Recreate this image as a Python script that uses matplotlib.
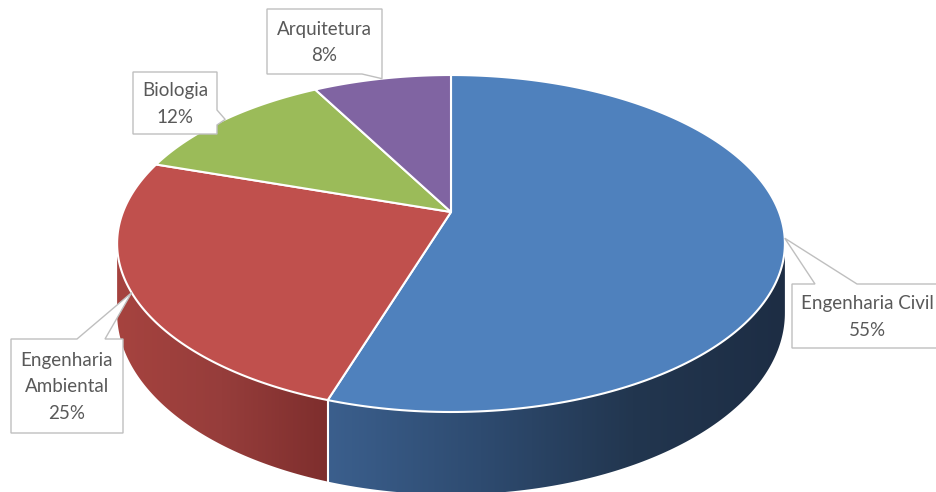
import matplotlib.pyplot as plt
import numpy as np
from matplotlib.patches import Polygon
from matplotlib.colors import LinearSegmentedColormap

# Distribuição por curso
categories = ['Engenharia Civil', 'Engenharia Ambiental', 'Biologia', 'Arquitetura']
label_text = ['Engenharia Civil', 'Engenharia\nAmbiental', 'Biologia', 'Arquitetura']
shares = [55, 25, 12, 8]

top_colors = ['#4F81BD', '#C0504D', '#9BBB59', '#8064A2']
side_colors = [['#3b5f8d', '#2e4b70', '#22364f', '#1d2d44'],
               ['#a6433f', '#963d3b', '#7e2e2d'],
               ['#7d9848', '#6a8238'],
               ['#65507f', '#55436c']]

# perspective "3D" pie geometry (pixel space)
CX, CY = 451, 212      # centre of the top face
W, K = 328, 162.6      # horizontal / vertical radius
E = 0.187              # perspective strength
H = 67                 # thickness of the pie


def proj(theta, r=1.0, z=0.0):
    t = np.radians(theta)
    u = r * np.sin(t)
    v = r * np.cos(t)
    den = 1 + E * v
    return CX + W * u / den, CY - K * v / den + H * z / den


fig = plt.figure(figsize=(9.36, 4.92), dpi=100)
ax = fig.add_axes([0, 0, 1, 1])
ax.set_xlim(0, 936)
ax.set_ylim(492, 0)
ax.axis('off')

bounds = np.concatenate([[0], np.cumsum(shares)]) / sum(shares) * 360
# silhouette of the side wall
vis_lo = np.degrees(np.arccos(-E))
vis_hi = 360 - vis_lo

# side walls
for i in range(len(shares)):
    a0, a1 = max(bounds[i], vis_lo), min(bounds[i + 1], vis_hi)
    if a1 <= a0:
        continue
    th = np.linspace(a0, a1, 120)
    xt, yt = proj(th)
    xb, yb = proj(th[::-1], z=1)
    pts = np.column_stack([np.concatenate([xt, xb]), np.concatenate([yt, yb])])
    poly = Polygon(pts, closed=True, facecolor='none', edgecolor='none')
    ax.add_patch(poly)
    cmap = LinearSegmentedColormap.from_list(f'side{i}', side_colors[i])
    grad = np.linspace(0, 1, 256).reshape(1, -1)
    im = ax.imshow(grad, cmap=cmap, aspect='auto', interpolation='bilinear',
                   extent=(pts[:, 0].min(), pts[:, 0].max(), pts[:, 1].max(), pts[:, 1].min()),
                   zorder=1)
    im.set_clip_path(poly)

# vertical seams between walls
for b in bounds[1:-1]:
    if vis_lo < b < vis_hi:
        x0, y0 = proj(b)
        x1, y1 = proj(b, z=1)
        ax.plot([x0, x1], [y0, y1], color='white', lw=1.5, zorder=2)

# top faces
for i in range(len(shares)):
    th = np.linspace(bounds[i], bounds[i + 1], 200)
    xs, ys = proj(th)
    pts = np.column_stack([np.concatenate([[CX], xs]), np.concatenate([[CY], ys])])
    ax.add_patch(Polygon(pts, closed=True, facecolor=top_colors[i],
                         edgecolor='white', lw=1.5, zorder=3, joinstyle='round'))

# callout boxes: (x0, y0, x1, y1), edge with pointer, pointer base positions
boxes = [(792, 284, 945, 348), (11, 339, 123, 433), (133, 72, 217, 134), (267, 9, 382, 74)]
pointer = [('top', 815, 857), ('top', 77, 105), ('right', 110, 125), ('bottom', 362, 382)]


def callout(box, side, b0, b1, tip):
    x0, y0, x1, y1 = box
    if side == 'top':
        pts = [(x0, y0), (b0, y0), tip, (b1, y0), (x1, y0), (x1, y1), (x0, y1)]
    elif side == 'bottom':
        pts = [(x0, y0), (x1, y0), (x1, y1), (b1, y1), tip, (b0, y1), (x0, y1)]
    else:
        pts = [(x0, y0), (x1, y0), (x1, b0), tip, (x1, b1), (x1, y1), (x0, y1)]
    return Polygon(pts, closed=True, facecolor='white', edgecolor='#BFBFBF', lw=1.0, zorder=5)


for i in range(len(shares)):
    mid = (bounds[i] + bounds[i + 1]) / 2
    tip = proj(mid)
    side, b0, b1 = pointer[i]
    ax.add_patch(callout(boxes[i], side, b0, b1, tip))
    x0, y0, x1, y1 = boxes[i]
    ax.text((x0 + x1) / 2 if i else 867, (y0 + y1) / 2 + 1, f'{label_text[i]}\n{shares[i]}%',
            ha='center', va='center', fontsize=13.5, family='Lato', color='#595959',
            linespacing=1.65, zorder=6)

fig.savefig('out.png', dpi=100)
